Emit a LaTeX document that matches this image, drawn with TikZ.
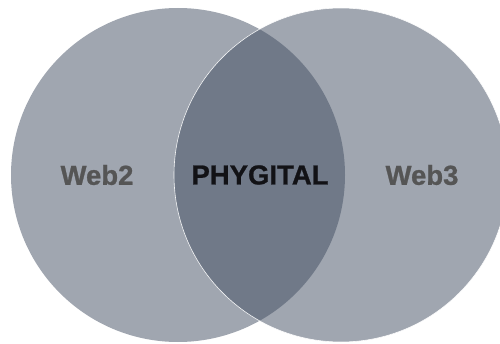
\documentclass[tikz,border=0pt]{standalone}
\usepackage{fontspec}
\setmainfont{Liberation Sans}[BoldFeatures={FakeBold=0.9}]
\usepackage{xcolor}
\usepackage{tikz}
\usetikzlibrary{positioning}

\definecolor{setfill}{RGB}{65,77,97}
\definecolor{sidetext}{RGB}{85,85,85}
\definecolor{midtext}{RGB}{18,18,22}

\begin{document}
\begin{tikzpicture}[x=1pt,y=1pt,
        setcircle/.style={fill=setfill, fill opacity=0.5},
        setlabel/.style={font=\fontsize{27.5}{31}\selectfont\bfseries, text=sidetext},
        midlabel/.style={font=\fontsize{27.5}{31}\selectfont\bfseries, text=midtext}]
        % Frame of the picture
        \useasboundingbox (0,0) rectangle (500,343);
        \clip (0,0) rectangle (500,343);

        % The two sets
        \coordinate (web2c) at (178,168);
        \coordinate (web3c) at (341,168);
        \fill[setcircle] (web2c) circle (167);
        \draw[setcircle, draw=white, draw opacity=0.9, line width=0.6pt] (web3c) circle (167);

        % Labels
        \node[setlabel] (web2) at (97,168) {Web2};
        \node[midlabel] (phygital) at (260,168) {PHYGITAL};
        \node[setlabel] (web3) at (422,168) {Web3};
    \end{tikzpicture}
\end{document}
